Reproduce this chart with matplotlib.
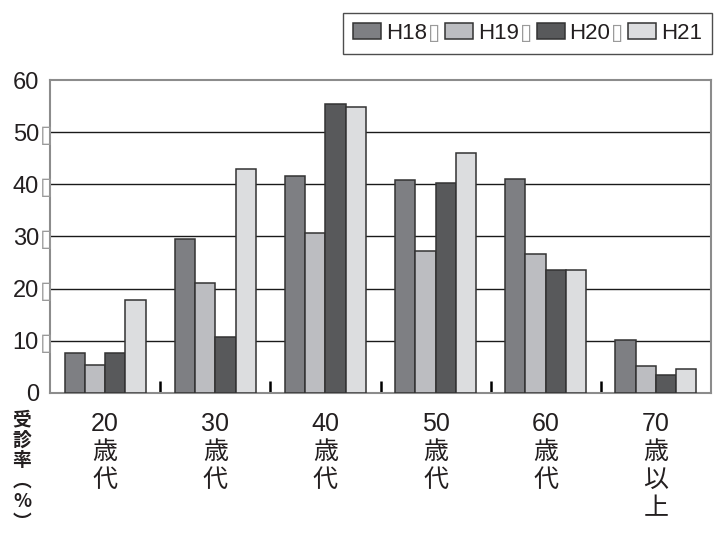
import matplotlib
matplotlib.use("Agg")
import matplotlib.pyplot as plt
import numpy as np
from matplotlib.transforms import blended_transform_factory

plt.rcParams['font.family'] = ['Liberation Sans', 'Noto Sans CJK JP']

# 年代別 受診率（%）
ages = ["20\n歳\n代", "30\n歳\n代", "40\n歳\n代", "50\n歳\n代", "60\n歳\n代", "70\n歳\n以\n上"]
years = ["H18", "H19", "H20", "H21"]
h18 = [7.6, 29.5, 41.6, 40.8, 41.0, 10.1]
h19 = [5.3, 21.0, 30.6, 27.2, 26.7, 5.2]
h20 = [7.6, 10.7, 55.4, 40.2, 23.6, 3.5]
h21 = [17.9, 42.9, 54.9, 46.0, 23.6, 4.6]
yticks = [0, 10, 20, 30, 40, 50, 60]

colors = ["#7e7f83", "#bcbdc1", "#58595b", "#dcdddf"]
ink = "#231f20"
boxgray = "#9a9a9a"

fig = plt.figure(figsize=(7.15, 5.4), dpi=100)
ax = fig.add_axes([50 / 715, 1 - 392.8 / 540, 661 / 715, 312.6 / 540])

x = np.arange(len(ages))
w = 0.184
bars = []
for i, vals in enumerate([h18, h19, h20, h21]):
    b = ax.bar(x + (i - 1.5) * w, vals, w, color=colors[i],
               edgecolor="#333333", linewidth=1.1, zorder=3)
    bars.append(b)

ax.set_xlim(-0.5, 5.5)
ax.set_ylim(0, 60)
for v in yticks[1:-1]:
    ax.axhline(v, color="#1a1a1a", lw=1.0, zorder=1)

for s in ax.spines.values():
    s.set_color("#8c8c8c")
    s.set_linewidth(1.5)

ax.set_xticks(x)
ax.set_xticklabels(ages, fontsize=18, linespacing=1.2, va='top', color=ink)
ax.tick_params(axis='x', which='major', length=0, pad=14)
ax.set_xticks(x[:-1] + 0.5, minor=True)
ax.tick_params(axis='x', which='minor', direction='in', length=9, width=1.8, color='black')

ax.set_yticks(yticks)
ax.set_yticklabels([str(v) for v in yticks])
ax.tick_params(axis='y', length=0, pad=8, labelsize=17, labelcolor=ink)

# 文字化けの箱
trans = blended_transform_factory(ax.transAxes, ax.transData)
for v in yticks[1:-1]:
    ax.text(-0.006, v - 0.5, "\u25af", transform=trans, ha='center', va='center',
            fontsize=17, color=boxgray, family=['DejaVu Sans'], clip_on=False)

leg = ax.legend([b[0] for b in bars], years, loc='upper right',
                bbox_to_anchor=(712 / 715, 1 - 13 / 540), bbox_transform=fig.transFigure,
                ncol=4, frameon=True, fancybox=False, edgecolor='#222222', fontsize=16,
                handlelength=1.26, handleheight=0.72, handletextpad=0.22,
                columnspacing=0.8, borderpad=0.45, borderaxespad=0)
leg.get_frame().set_linewidth(1.0)
for t in leg.get_texts():
    t.set_color(ink)

fig.canvas.draw()
for t in leg.get_texts()[:-1]:
    bb = t.get_window_extent()
    fig.text((bb.x1 + 1) / 715, (bb.y0 + bb.y1) / 2 / 540, "\u25af", ha='left', va='center',
             fontsize=16, color=boxgray, family=['DejaVu Sans'])

fig.text(22 / 715, 1 - 410 / 540, "受\n診\n率\n\ufe35\n%\n\ufe36", ha='center', va='top',
         multialignment='center', fontsize=13.5, linespacing=1.1, color=ink,
         family=['Noto Sans CJK JP'], fontweight='bold')

fig.savefig("out.png", dpi=100)
